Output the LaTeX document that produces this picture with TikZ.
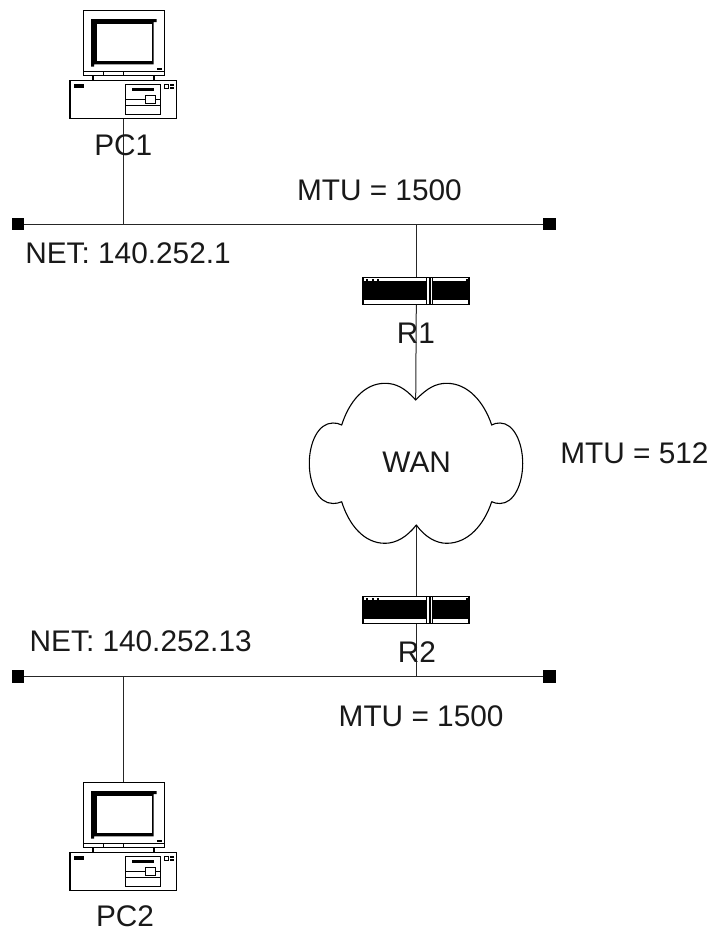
\documentclass[tikz,border=0pt]{standalone}
\usepackage{fontspec}
\setmainfont{Liberation Sans}
\tikzset{
  x=1pt,y=-1pt,
  wire/.style={draw=black!85,line width=1pt},
  term/.style={fill=black,draw=none,minimum size=12.5pt,inner sep=0pt,outer sep=0pt,rectangle},
  lab/.style={anchor=base west,inner sep=0pt,outer sep=0pt,font=\fontsize{29.8}{32}\selectfont,text=black!90},
  labc/.style={anchor=base,inner sep=0pt,outer sep=0pt,font=\fontsize{29.8}{32}\selectfont,text=black!90},
  hull/.style={draw=black,line width=1.5pt,fill=white},
  thin part/.style={draw=black,line width=1pt},
  ghost/.style={rectangle,inner sep=0pt,outer sep=0pt,draw=none},
}
\newcommand{\pcicon}{%
  \draw[line width=2pt] (93.3,75) -- (93.3,81) (154,75) -- (154,81);
  \draw[hull] (83.3,10.7) rectangle (164.3,75.7);
  \draw[thin part] (83.3,71.7) -- (164.3,71.7) (103.3,71.7) -- (103.3,75.7) (123.3,71.7) -- (123.3,75.7);
  \fill (91,19) -- (156.7,19) -- (156.7,22) -- (153.5,22) -- (153.5,64.3) -- (94,64.3) -- (94,66.7) -- (91,66.7) -- cycle;
  \fill[white] (96.7,24.3) rectangle (151.7,61);
  \fill (157.3,68.3) rectangle (161.7,70);
  \draw[hull] (70,80.7) rectangle (176.7,118.3);
  \fill (74,84.3) rectangle (84.3,87.7);
  \draw[thin part] (125.3,84.3) rectangle (160.7,114.3);
  \fill (131.7,88.3) rectangle (154.3,91);
  \draw[thin part] (125.3,99) -- (160.7,99) (125.3,105) -- (160.7,105);
  \draw[thin part,fill=white] (145.7,95.7) rectangle (155.7,103.3);
  \draw[line width=.7pt] (164,84.3) rectangle (168.3,88.3);
  \fill (170,84.3) rectangle (174,86);
  \fill (170,87) rectangle (174,88.7);
}
\newcommand{\routericon}{%
  \fill (362.3,276.7) rectangle (470,305);
  \fill[white] (364,278.4) rectangle (426,281);
  \fill[white] (432.7,278.4) rectangle (468.3,281);
  \fill[white] (364,300.3) rectangle (426,303.6);
  \fill[white] (432.7,300.3) rectangle (468.3,303.6);
  \fill[white] (427.3,278) rectangle (429.3,304);
  \fill[white] (431,278) rectangle (432,304);
  \fill (366,279) rectangle (368,280.6);
  \fill (371.5,279) rectangle (373.5,280.6);
  \fill (376.5,279) rectangle (378.5,280.6);
  \fill (465.5,279) rectangle (467.5,280.6);
}
\begin{document}
\begin{tikzpicture}
\useasboundingbox (0,0) rectangle (712,929);
% hidden anchors for the drawn icons
\node[ghost,minimum width=106.7pt,minimum height=37.6pt] (pc1) at (123.35,99.5) {};
\node[ghost,minimum width=81pt,minimum height=65pt] (pc2mon) at (123.8,815.2) {};
\node[ghost,minimum width=107.7pt,minimum height=28.3pt] (r1) at (416.15,290.85) {};
\node[ghost,minimum width=107.7pt,minimum height=28.3pt] (r2) at (416.15,609.85) {};
\node[term] (a1) at (18,224) {};
\node[term] (b1) at (549.5,224) {};
\node[term] (a2) at (18,676.7) {};
\node[term] (b2) at (549.5,676.7) {};
\coordinate (j1) at (123.3,224);
\coordinate (j2) at (416.3,224);
\coordinate (j3) at (123.3,676.7);
\coordinate (j4) at (416.3,676.7);
\coordinate (wantop) at (415.7,400);
\coordinate (wanbot) at (416.3,525);
% connectors
\draw[wire] (a1) -- (b1);
\draw[wire] (a2) -- (b2);
\draw[wire] (pc1.south -| j1) -- (j1);
\draw[wire] (j3) -- (pc2mon.north -| j3);
\draw[wire] (j2) -- (r1.north -| j2);
\draw[wire] (r1.south -| j2) -- (wantop);
\draw[wire] (wanbot) -- (r2.north -| wanbot);
\draw[wire] (r2.south -| wanbot) -- (j4);
% icons
\pcicon
\begin{scope}[shift={(0,772)}]\pcicon\end{scope}
\routericon
\begin{scope}[shift={(0,319)}]\routericon\end{scope}
% cloud
\draw[line width=1.1pt,line join=round] (wantop)
  .. controls (427,388) and (436,383.3) .. (446.7,383.3)
  .. controls (468,383.3) and (484,402) .. (491.7,425)
  .. controls (494,423.5) and (497,423) .. (500,423)
  .. controls (514,423) and (522.7,443) .. (522.7,463.3)
  .. controls (522.7,484) and (514,503.5) .. (500,503.5)
  .. controls (497,503.5) and (494,503) .. (491.7,501.7)
  .. controls (484,525) and (468,543.3) .. (446.7,543.3)
  .. controls (436,543.3) and (425,537) .. (wanbot)
  .. controls (407,537) and (396,543.3) .. (385,543.3)
  .. controls (364,543.3) and (349,525) .. (341.7,501.7)
  .. controls (339,503) and (336,503.5) .. (333,503.5)
  .. controls (318,503.5) and (309.3,484) .. (309.3,463.3)
  .. controls (309.3,443) and (318,423) .. (333,423)
  .. controls (336,423) and (339,423.5) .. (341.7,425)
  .. controls (349,402) and (364,383.3) .. (385,383.3)
  .. controls (396,383.3) and (405,388) .. (wantop) -- cycle;
% labels
\node[labc] (tpc1) at (123.3,155) {PC1};
\node[labc] (tpc2) at (125,926.5) {PC2};
\node[lab] (tm1) at (297,200) {MTU = 1500};
\node[lab] (tn1) at (25.3,263.3) {NET: 140.252.1};
\node[labc] (tr1) at (416,343.3) {R1};
\node[labc] (twan) at (416.7,472.7) {WAN};
\node[lab] (tm2) at (560.3,463.3) {MTU = 512};
\node[lab] (tn2) at (29.7,651.7) {NET: 140.252.13};
\node[labc] (tr2) at (417,662.3) {R2};
\node[lab] (tm3) at (338.7,726) {MTU = 1500};
\end{tikzpicture}
\end{document}
